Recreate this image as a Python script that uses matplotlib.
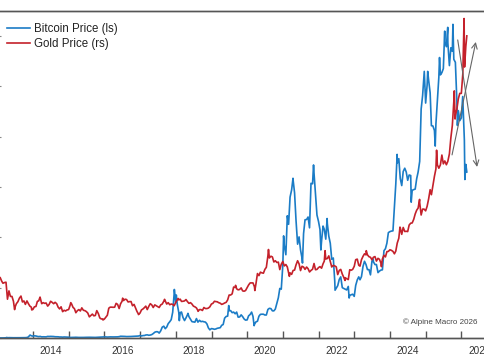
import numpy as np
import pandas as pd
import matplotlib
matplotlib.use("Agg")
import matplotlib.pyplot as plt

plt.rcParams['font.family'] = ['Liberation Sans', 'DejaVu Sans']

# ---------------- data ----------------
# Bitcoin, month-end closes, Jan 2013 .. Jan 2026
btc_monthly = [
    20, 33, 93, 139, 129, 97, 106, 135, 133, 198, 1129, 757,
    800, 550, 450, 445, 630, 640, 585, 480, 390, 338, 378, 320,
    218, 254, 244, 236, 230, 263, 284, 230, 236, 314, 377, 430,
    369, 437, 416, 448, 531, 673, 624, 575, 609, 700, 745, 964,
    970, 1190, 1080, 1350, 2300, 2480, 2875, 4700, 4340, 6470, 10230, 14150,
    10220, 10330, 6930, 9240, 7500, 6400, 7730, 7030, 6630, 6320, 4020, 3740,
    3460, 3850, 4100, 5350, 8570, 10820, 10080, 9630, 8290, 9200, 7570, 7190,
    9350, 8600, 6440, 8660, 9460, 9140, 11350, 11680, 10780, 13800, 19700, 29000,
    33100, 45200, 58900, 57700, 37300, 35000, 41500, 47100, 43800, 61300, 57000, 46300,
    38500, 43200, 45500, 37700, 31800, 19800, 23300, 20000, 19400, 20500, 17200, 16550,
    23100, 23150, 28500, 29250, 27200, 30500, 29200, 26000, 27000, 34700, 37700, 42300,
    42600, 61200, 71300, 60600, 67500, 62700, 64600, 59000, 63300, 70200, 96400, 93400,
    102400, 84400, 82500, 94200, 104600, 107100, 115800, 108300, 114000, 109600, 90400, 87500,
    78600,
]
# Bitcoin, mid-month values, Feb 2013 .. Dec 2025
btc_midmonth = [
    27, 47, 83, 115, 100, 98, 108, 127, 140, 420, 870,
    860, 640, 630, 480, 450, 600, 620, 500, 475, 395, 400, 350,
    210, 235, 285, 222, 237, 233, 285, 265, 230, 255, 335, 455,
    430, 400, 415, 430, 455, 690, 665, 570, 605, 640, 710, 780,
    820, 1000, 1250, 1170, 1750, 2500, 1950, 4300, 3700, 5700, 7300, 17600,
    13600, 10100, 8200, 8000, 8500, 6500, 6300, 6300, 6500, 6450, 5600, 3250,
    3650, 3600, 3950, 5050, 7900, 8700, 10900, 10300, 10300, 8350, 8500, 7100,
    8800, 10300, 5400, 6650, 9400, 9450, 9150, 11800, 10800, 11500, 16000, 19400,
    36800, 48600, 56000, 62900, 46700, 40200, 31800, 47000, 48100, 61500, 65500, 48900,
    43100, 44500, 39300, 40500, 31300, 22500, 20800, 24300, 19700, 19100, 16900, 17400,
    20900, 24300, 24400, 30500, 27200, 25100, 30300, 29200, 26600, 27100, 35500, 41900,
    42500, 51900, 69500, 63400, 66200, 66000, 64800, 58700, 59200, 66000, 91000, 104500,
    100500, 97500, 84300, 85000, 103700, 105500, 117700, 117400, 115400, 110800, 94500, 86400,
]
btc_extra_dates = [
    "2013-04-09", "2013-12-04", "2017-12-17", "2018-01-06", "2018-02-06", "2018-05-05",
    "2019-06-26", "2020-03-12", "2021-01-08", "2021-04-14", "2021-07-20", "2021-11-10",
    "2022-01-24", "2022-03-29", "2022-06-18", "2022-11-09", "2023-07-13", "2024-03-14",
    "2024-08-05", "2024-12-17", "2025-01-21", "2025-04-08", "2025-05-22", "2025-07-14",
    "2025-08-14", "2025-10-06", "2025-11-21", "2026-01-14", "2026-02-05", "2026-02-15",
    "2026-02-25",
]
btc_extra_values = [
    230, 1150, 19300, 17100, 6900, 9800,
    12900, 4900, 40600, 63500, 29800, 68800,
    35000, 47500, 19000, 15900, 31400, 73000,
    54000, 106000, 106000, 76300, 111500, 122000,
    123500, 124700, 84500, 96000, 63000, 69000,
    66000,
]

# Gold, month-end closes, Jan 2013 .. Jan 2026
gold_monthly = [
    1660, 1580, 1595, 1470, 1390, 1230, 1315, 1395, 1325, 1325, 1250, 1202,
    1245, 1325, 1285, 1290, 1250, 1320, 1285, 1285, 1210, 1170, 1180, 1200,
    1280, 1215, 1185, 1180, 1190, 1172, 1095, 1135, 1115, 1142, 1065, 1062,
    1118, 1235, 1233, 1290, 1215, 1320, 1350, 1310, 1316, 1275, 1173, 1150,
    1210, 1250, 1248, 1268, 1268, 1242, 1268, 1320, 1280, 1270, 1275, 1303,
    1340, 1318, 1325, 1315, 1300, 1250, 1224, 1200, 1187, 1215, 1222, 1280,
    1320, 1313, 1292, 1283, 1305, 1410, 1427, 1520, 1485, 1513, 1465, 1517,
    1585, 1585, 1577, 1690, 1730, 1780, 1975, 1970, 1887, 1880, 1777, 1895,
    1850, 1734, 1708, 1770, 1905, 1763, 1814, 1814, 1743, 1783, 1775, 1806,
    1797, 1900, 1937, 1897, 1838, 1817, 1765, 1712, 1660, 1633, 1768, 1824,
    1928, 1827, 1969, 1990, 1963, 1919, 1965, 1940, 1870, 1984, 2036, 2063,
    2040, 2044, 2230, 2286, 2327, 2326, 2447, 2503, 2634, 2744, 2650, 2625,
    2800, 2858, 3124, 3289, 3289, 3303, 3290, 3448, 3858, 4000, 4240, 4320,
    4900,
]
# Gold, mid-month values, Feb 2013 .. Jan 2026
gold_midmonth = [
    1610, 1590, 1350, 1390, 1320, 1285, 1365, 1310, 1275, 1285, 1235,
    1240, 1320, 1375, 1300, 1295, 1275, 1305, 1305, 1235, 1240, 1190, 1195,
    1260, 1230, 1155, 1200, 1225, 1185, 1150, 1115, 1110, 1185, 1080, 1065,
    1090, 1220, 1235, 1235, 1275, 1285, 1330, 1345, 1315, 1255, 1225, 1135,
    1195, 1230, 1200, 1285, 1230, 1255, 1230, 1280, 1325, 1300, 1280, 1255,
    1340, 1350, 1320, 1345, 1290, 1280, 1240, 1185, 1200, 1230, 1215, 1240,
    1290, 1315, 1300, 1275, 1295, 1340, 1410, 1525, 1500, 1490, 1470, 1475,
    1555, 1585, 1530, 1720, 1740, 1725, 1810, 1945, 1960, 1905, 1885, 1855,
    1830, 1815, 1730, 1765, 1845, 1860, 1825, 1780, 1790, 1765, 1865, 1780,
    1820, 1860, 1930, 1975, 1815, 1830, 1705, 1780, 1665, 1645, 1775, 1780,
    1920, 1840, 1920, 2005, 1990, 1955, 1955, 1900, 1925, 1930, 1960, 2040,
    2055, 2005, 2160, 2380, 2385, 2330, 2420, 2450, 2580, 2665, 2565, 2650,
    2690, 2930, 2985, 3230, 3240, 3430, 3345, 3340, 3680, 4200, 4090, 4320,
    4600,
]
gold_extra_dates = [
    "2013-06-27", "2013-12-19", "2014-03-14", "2015-01-22", "2015-12-17",
    "2016-07-06", "2016-12-15", "2017-09-08", "2018-01-25", "2018-08-16", "2019-09-04",
    "2020-03-19", "2020-08-06", "2021-03-08", "2022-03-08", "2022-09-28", "2023-05-03",
    "2023-10-05", "2024-04-12", "2024-10-30", "2025-04-22", "2025-10-20", "2025-10-28",
    "2026-01-28", "2026-02-02", "2026-02-15", "2026-02-25",
]
gold_extra_values = [
    1200, 1195, 1380, 1300, 1050,
    1365, 1128, 1348, 1360, 1175, 1550,
    1475, 2067, 1680, 2050, 1620, 2050,
    1820, 2390, 2790, 3500, 4356, 3950,
    5400, 4700, 5000, 5150,
]

year_labels = ["2014", "2016", "2018", "2020", "2022", "2024", "2026"]
legend_labels = ["Bitcoin Price (ls)", "Gold Price (rs)"]
arrow_up = [("2025-09-27", 72800), ("2026-05-28", 117700)]
arrow_down = [("2025-11-24", 118500), ("2026-06-10", 68000)]


def decimal_year(dates):
    idx = pd.DatetimeIndex(pd.to_datetime(list(dates)))
    years = idx.year.to_numpy()
    doy = idx.dayofyear.to_numpy() - 1
    days = np.where(idx.is_leap_year, 366.0, 365.0)
    return years + doy / days


def build(monthly, midmonth, extra_dates, extra_values):
    mdates = pd.date_range("2013-01-31", periods=len(monthly), freq="ME")
    middates = pd.date_range("2013-02-01", periods=len(midmonth), freq="MS") + pd.Timedelta(days=14)
    d = list(mdates) + list(middates) + list(pd.to_datetime(extra_dates))
    x = decimal_year(d)
    v = np.array(list(monthly) + list(midmonth) + list(extra_values), dtype=float)
    order = np.argsort(x, kind="stable")
    return x[order], v[order]


bx, by = build(btc_monthly, btc_midmonth, btc_extra_dates, btc_extra_values)
gx, gy = build(gold_monthly, gold_midmonth, gold_extra_dates, gold_extra_values)

# ---------------- figure ----------------
W, H = 485, 360
fig = plt.figure(figsize=(W / 100, H / 100), dpi=100)
ax = fig.add_axes([-2.7 / W, 22 / H, 492.7 / W, 327.5 / H])
ax2 = ax.twinx()

blue = "#1b7cc6"
red = "#c4212b"
l1, = ax.plot(bx, by, color=blue, lw=1.2)
l2, = ax2.plot(gx, gy, color=red, lw=1.2)

ax.set_xlim(2013.0, 2026.8)
ax.set_ylim(0, 130200)
ax2.set_ylim(790, 5516)

spine_c = "#555555"
for a in (ax, ax2):
    for s in ("left", "right"):
        a.spines[s].set_visible(False)
    for s in ("top", "bottom"):
        a.spines[s].set_color(spine_c)
        a.spines[s].set_linewidth(1.0)

ax.set_yticks(np.arange(0, 130001, 20000))
ax.tick_params(axis="y", direction="in", length=3, color="#888888",
               labelleft=False, left=True, right=False)
ax2.tick_params(axis="y", right=False, labelright=False)

years = np.arange(2013, 2027)
ax.set_xticks(years)
ax.set_xticks([int(y) + 0.5 for y in year_labels], minor=True)
ax.set_xticklabels([])
ax.set_xticklabels(year_labels, minor=True)
ax.tick_params(axis="x", which="major", direction="in", length=5, color=spine_c, width=1)
ax.tick_params(axis="x", which="minor", length=0, pad=5.5, labelsize=7.2, labelcolor="#333333")

# arrows
for (p0, p1) in (arrow_up, arrow_down):
    x0 = decimal_year([p0[0]])[0]
    x1 = decimal_year([p1[0]])[0]
    ax2.annotate("", xy=(x1, p1[1]), xycoords=ax.transData,
                 xytext=(x0, p0[1]), textcoords=ax.transData,
                 arrowprops=dict(arrowstyle="->", color="#666666", lw=0.8,
                                 mutation_scale=10, shrinkA=0, shrinkB=0))

leg = ax2.legend([l1, l2], legend_labels, loc="upper left",
                 bbox_to_anchor=(7 / W, 1 - 23 / H), bbox_transform=fig.transFigure,
                 frameon=False, fontsize=8.3, handlelength=2.0, handletextpad=0.35,
                 labelspacing=0.3, borderpad=0, borderaxespad=0)
for t in leg.get_texts():
    t.set_color("#222222")

fig.text(440 / W, 1 - 322 / H, "\u00a9 Alpine Macro 2026", ha="center", va="center",
         fontsize=5.8, color="#444444")

fig.savefig("out.png", dpi=100)
